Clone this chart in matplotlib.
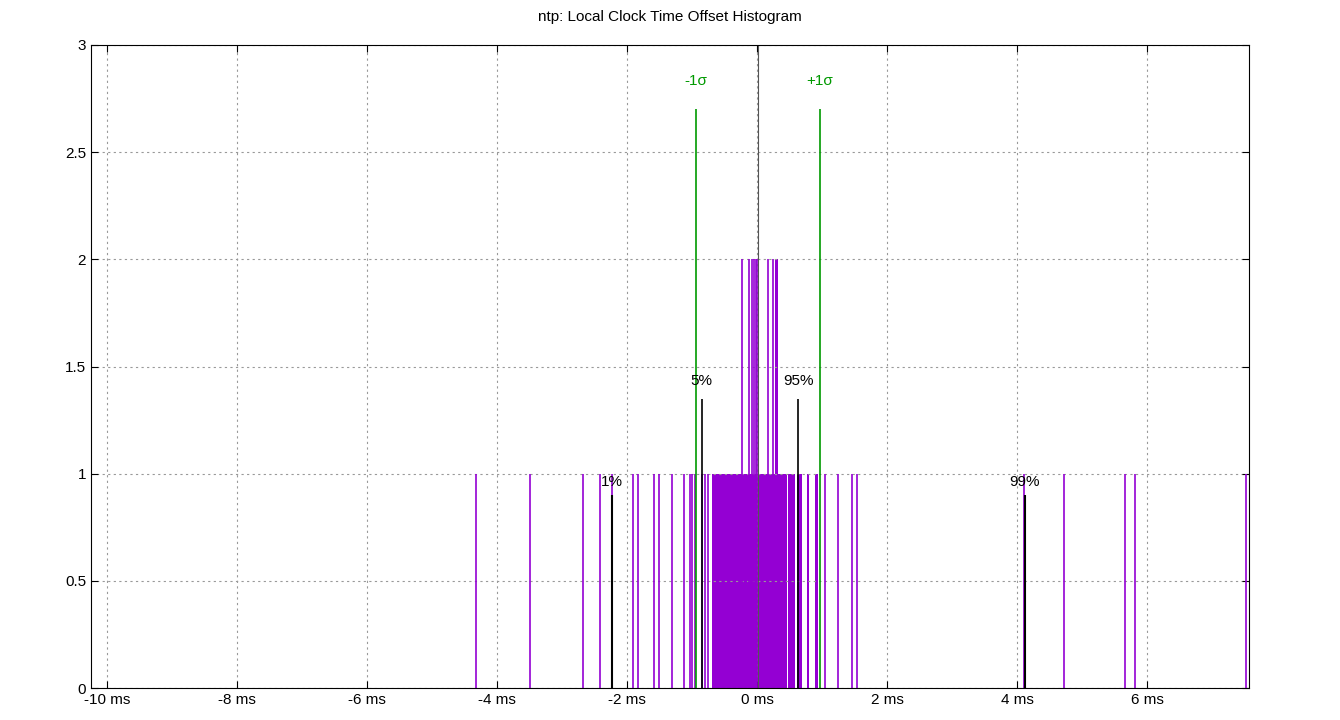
import matplotlib
matplotlib.use("Agg")
import matplotlib.pyplot as plt
from matplotlib.ticker import FuncFormatter

plt.rcParams['font.family'] = ['Liberation Sans', 'DejaVu Sans']
plt.rcParams['font.size'] = 11

# offsets in ms, one sample each (count 1)
single_1 = [-4.32, -3.49, -2.68, -2.42, -2.23, -1.91, -1.83, -1.58, -1.51, -1.31,
            -1.12, -1.03, -1.00, -0.95, -0.85, -0.80, -0.75,
            1.05, 1.25, 1.46, 1.54, 4.11, 4.72, 5.66, 5.82, 7.52]
# dense ranges where every bin holds one sample
spans_1 = [(-0.69, 0.46), (0.48, 0.58), (0.62, 0.69), (0.77, 0.80), (0.89, 0.94)]
# bins with two samples
single_2 = [-0.23, -0.12, -0.08, -0.05, -0.02, 0.0, 0.17, 0.25]
spans_2 = [(0.28, 0.32)]

mean = 0.02
sigma = (-0.94, 0.97)
pct_5_95 = (-0.85, 0.63)
pct_1_99 = (-2.23, 4.12)

purple = '#9400D3'
green = '#009900'

fig = plt.figure(figsize=(13.4, 7.2), dpi=100)
ax = fig.add_axes([91/1340, 32/720, 1158/1340, 643/720])

ax.vlines(single_1, 0, 1, color=purple, lw=1.2)
ax.vlines(single_2, 0, 2, color=purple, lw=1.2)
for a, b in spans_1:
    ax.fill_between([a, b], 0, 1, color=purple, lw=0)
for a, b in spans_2:
    ax.fill_between([a, b], 0, 2, color=purple, lw=0)

ax.axvline(mean, color='#555555', lw=0.8)
ax.vlines(sigma, 0, 2.7, color=green, lw=1.2)
ax.text(sigma[0], 2.8, '-1σ', color=green, ha='center', va='bottom', fontsize=11)
ax.text(sigma[1], 2.8, '+1σ', color=green, ha='center', va='bottom', fontsize=11)
ax.vlines(pct_5_95, 0, 1.35, color='black', lw=1.2)
ax.text(pct_5_95[0], 1.4, '5%', ha='center', va='bottom')
ax.text(pct_5_95[1], 1.4, '95%', ha='center', va='bottom')
ax.vlines(pct_1_99, 0, 0.9, color='black', lw=1.5)
ax.text(pct_1_99[0], 0.93, '1%', ha='center', va='bottom')
ax.text(pct_1_99[1], 0.93, '99%', ha='center', va='bottom')

ax.set_xlim(-10.25, 7.57)
ax.set_ylim(0, 3)
ax.set_xticks(range(-10, 8, 2))
ax.xaxis.set_major_formatter(FuncFormatter(lambda v, p: f'{int(v)} ms'))
ax.set_yticks([0, 0.5, 1, 1.5, 2, 2.5, 3])
ax.yaxis.set_major_formatter(FuncFormatter(lambda v, p: f'{v:g}'))
ax.grid(True, color='#999999', linestyle=(0, (2, 3)), lw=0.8)
ax.tick_params(direction='in', top=True, right=True, length=5, labelsize=11)
ax.set_title('ntp: Local Clock Time Offset Histogram', fontsize=11, pad=17)

fig.savefig('out.png', dpi=100)
